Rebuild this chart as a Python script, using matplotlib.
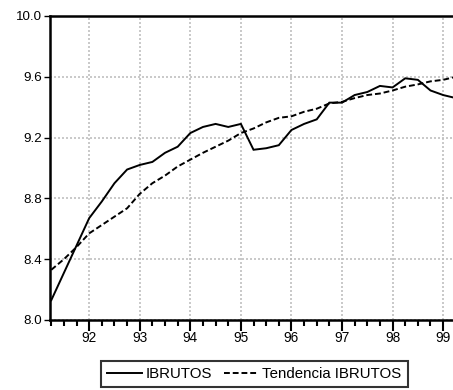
import matplotlib
matplotlib.use("Agg")
import matplotlib.pyplot as plt
from matplotlib.ticker import FixedLocator, NullFormatter

plt.rcParams['font.family'] = ['Liberation Sans', 'DejaVu Sans']

# Quarterly observations, 1991Q2 - 1999Q2
quarters = [f"{y}Q{q}" for y in range(1991, 2000) for q in range(1, 5)][1:34]

ibrutos = [8.13, 8.31, 8.49, 8.67, 8.78, 8.90, 8.99, 9.02, 9.04, 9.10,
           9.14, 9.23, 9.27, 9.29, 9.27, 9.29, 9.12, 9.13, 9.15, 9.25,
           9.29, 9.32, 9.43, 9.43, 9.48, 9.50, 9.54, 9.53, 9.59, 9.58,
           9.51, 9.48, 9.46]

tendencia = [8.33, 8.40, 8.48, 8.57, 8.625, 8.68, 8.735, 8.83, 8.90, 8.95,
             9.01, 9.055, 9.10, 9.14, 9.18, 9.23, 9.26, 9.30, 9.33, 9.34,
             9.37, 9.39, 9.425, 9.435, 9.46, 9.48, 9.49, 9.51, 9.535, 9.55,
             9.57, 9.58, 9.60]

year_labels = ["92", "93", "94", "95", "96", "97", "98", "99"]
y_ticks = [8.0, 8.4, 8.8, 9.2, 9.6, 10.0]

x = list(range(len(quarters)))
major_idx = [i for i, q in enumerate(quarters) if q.endswith("Q1")]
minor_idx = [i for i in x if i not in major_idx]

fig = plt.figure(figsize=(4.53, 3.90), dpi=100)
ax = fig.add_axes([50 / 453, 70 / 390, 403 / 453, 304 / 390])

l1, = ax.plot(x, ibrutos, color="black", lw=1.4, solid_joinstyle="miter")
l2, = ax.plot(x, tendencia, color="black", lw=1.4, ls=(0, (3, 1.5)))

ax.set_xlim(-0.1, 31.78)
ax.set_ylim(8.0, 10.0)

ax.xaxis.set_major_locator(FixedLocator(major_idx))
ax.set_xticklabels(year_labels)
ax.xaxis.set_minor_locator(FixedLocator(minor_idx))
ax.xaxis.set_minor_formatter(NullFormatter())
ax.set_yticks(y_ticks)
ax.set_yticklabels([f"{v:.1f}" for v in y_ticks])

ax.tick_params(axis="x", which="major", direction="out", length=8, width=1.5,
               labelsize=9.8, pad=0, color="black")
ax.tick_params(axis="x", which="minor", direction="out", length=4.5, width=1.5,
               color="black")
ax.tick_params(axis="y", which="major", direction="out", length=4, width=1.0,
               labelsize=9.6, pad=2, color="black")

ax.grid(True, which="major", color="#c0c0c0", ls=(0, (1.2, 1.2)), lw=1.2)
ax.set_axisbelow(True)

for side in ("left", "top", "bottom"):
    ax.spines[side].set_linewidth(1.8)
    ax.spines[side].set_color("black")
ax.spines["right"].set_visible(False)

leg = fig.legend([l1, l2], ["IBRUTOS", "Tendencia IBRUTOS"],
                 loc="center", bbox_to_anchor=(254.5 / 453, 1 - 374 / 390),
                 ncol=2, frameon=True, fancybox=False, fontsize=10.8,
                 handlelength=2.3, handletextpad=0.25, columnspacing=0.8,
                 borderpad=0.4, borderaxespad=0)
leg.get_frame().set_edgecolor("black")
leg.get_frame().set_linewidth(1.5)
leg.get_frame().set_facecolor("white")

fig.savefig("out.png", dpi=100)
